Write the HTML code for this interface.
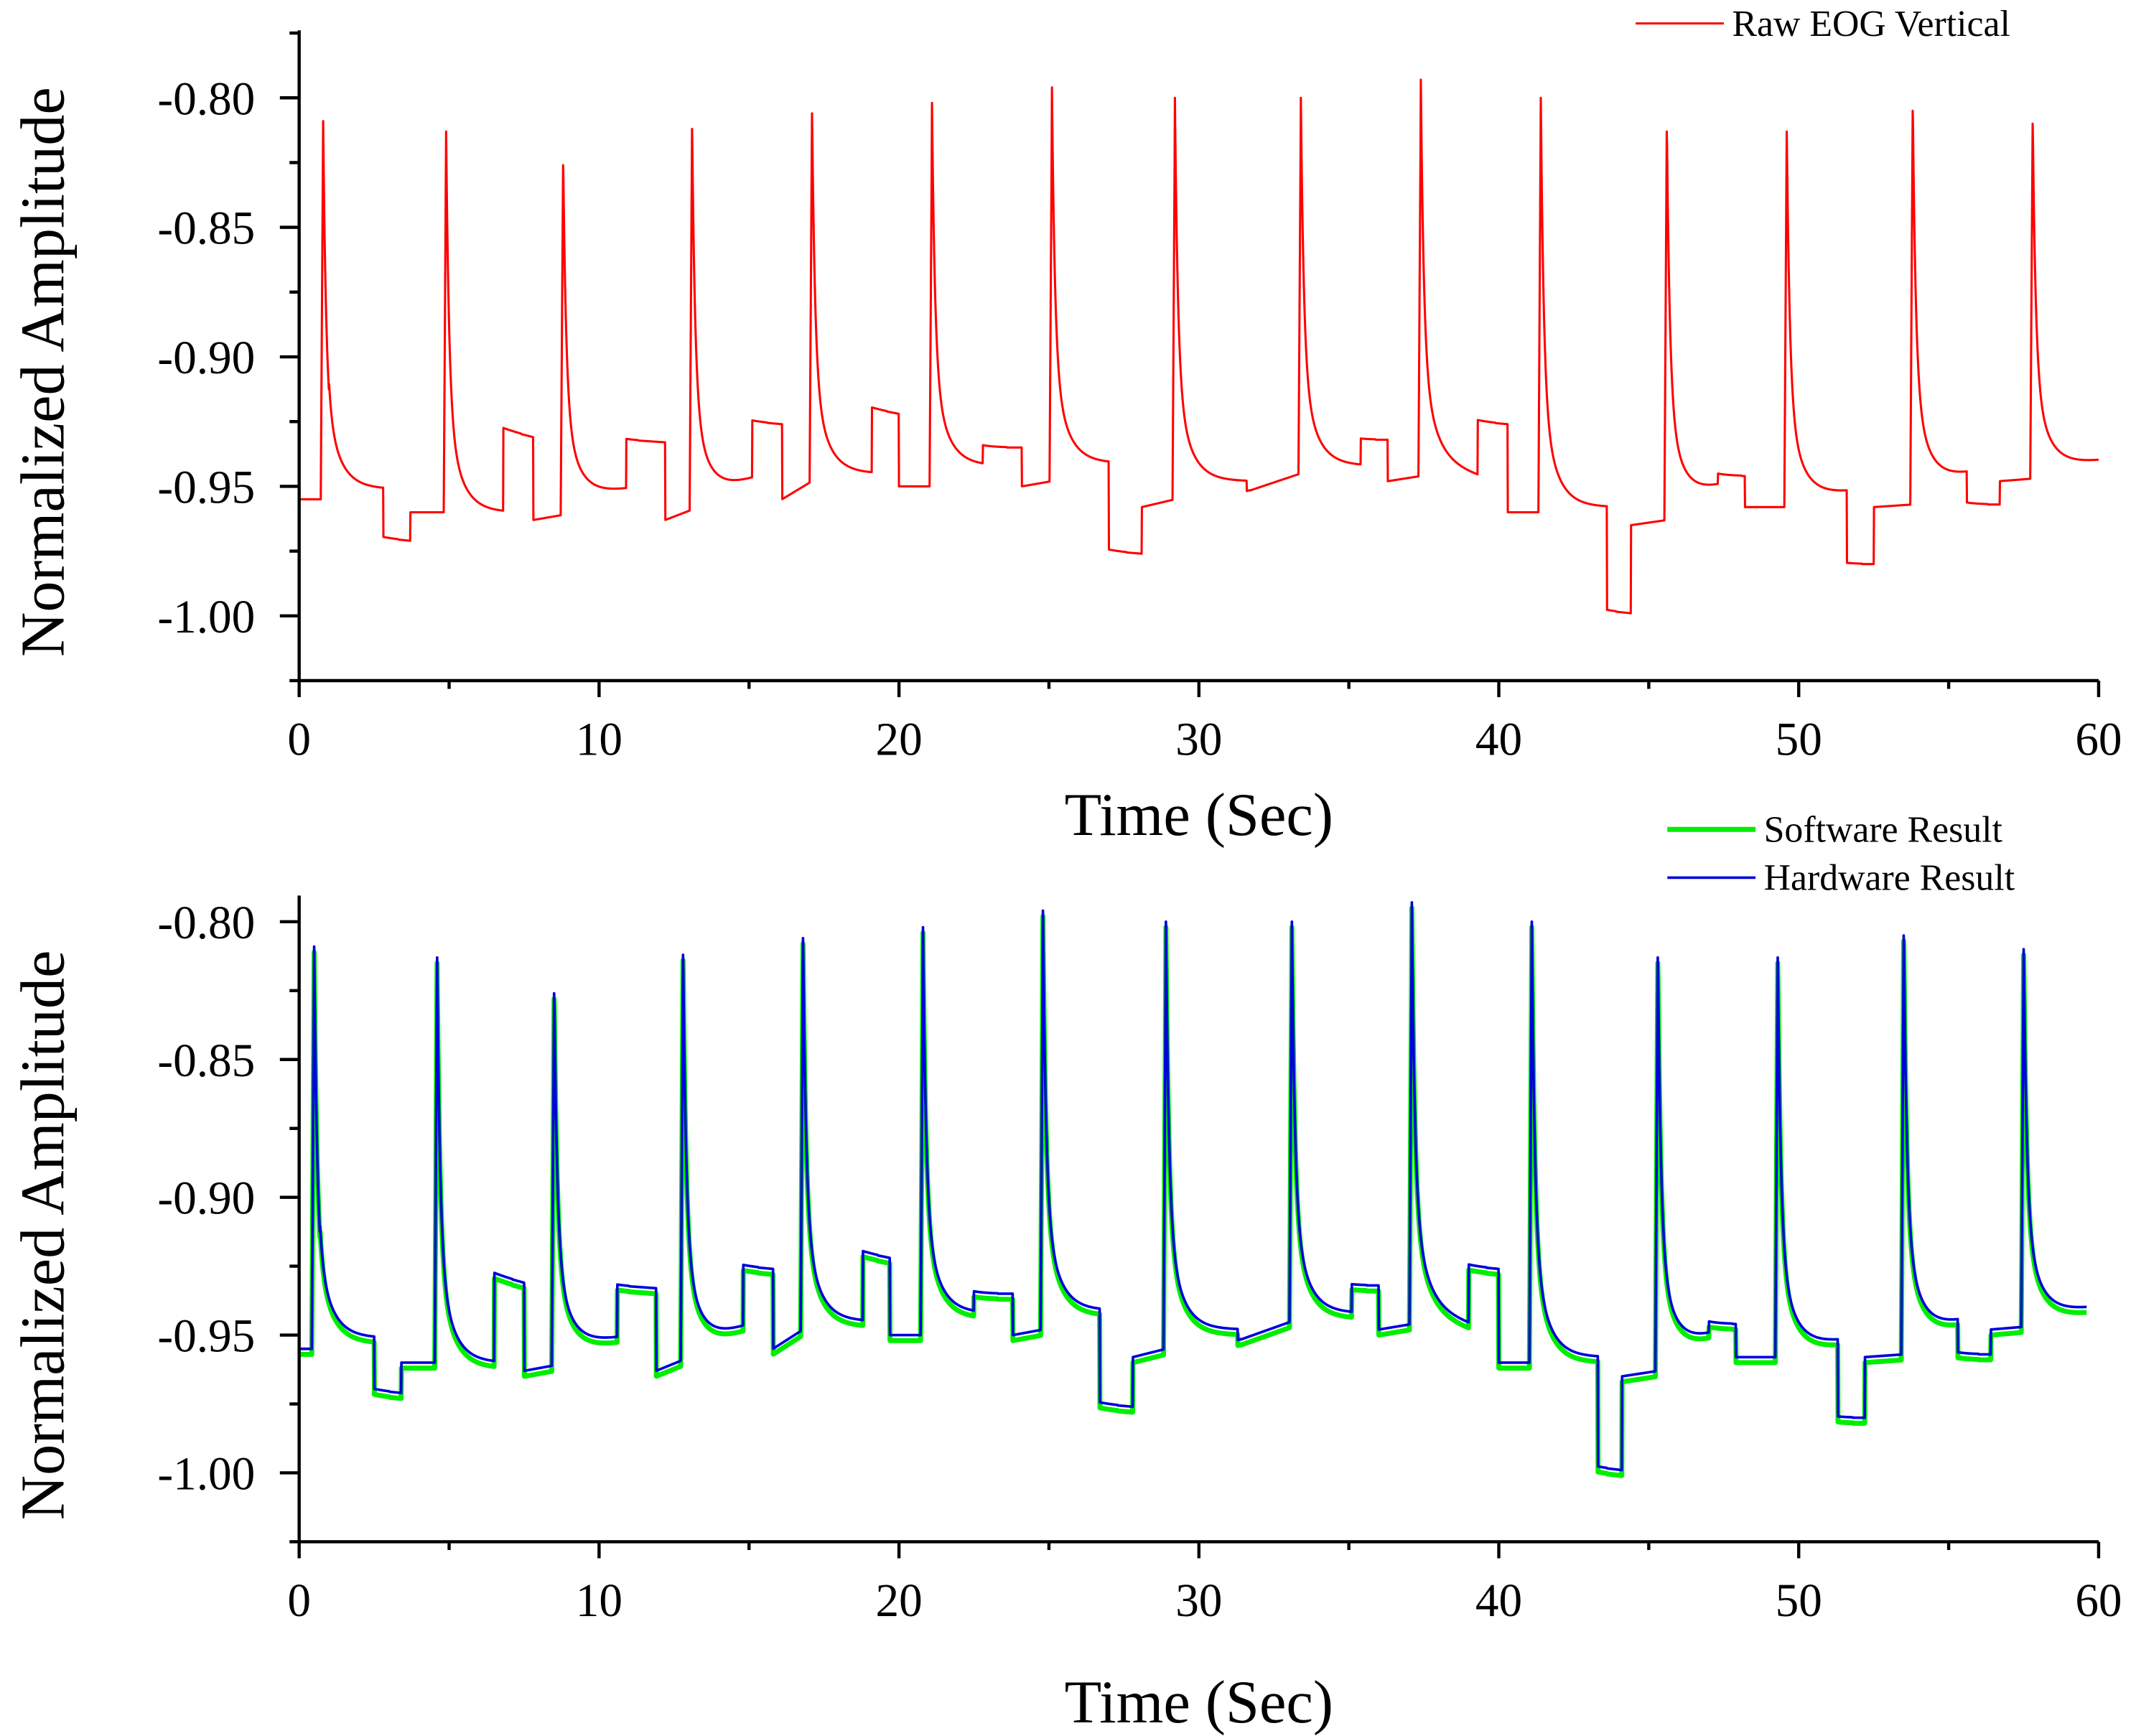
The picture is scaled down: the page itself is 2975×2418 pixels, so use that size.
<!DOCTYPE html>
<html><head><meta charset="utf-8"><style>
html,body{margin:0;padding:0;background:#fff}
svg{display:block}
text{font-family:"Liberation Serif",serif;fill:#000}
</style></head><body>
<svg id="chart" width="2975" height="2418" viewBox="0 0 1550 1260" xmlns="http://www.w3.org/2000/svg">
<g id="top"></g>
<g id="bot"></g>
</svg>
<script>
// ---- data ----
const segStart = [0,1.0,2.8,3.7,4.9,6.8,7.8,8.8,10.9,12.2,13.1,15.1,16.1,17.1,19.1,20.0,21.1,22.8,24.1,25.1,27.0,28.1,29.2,31.6,33.4,35.4,36.3,37.4,39.3,40.3,41.4,43.6,44.4,45.6,47.3,48.2,49.6,51.6,52.5,53.8,55.6,56.7,57.8];
const segLevelA = [-0.955,-0.951,-0.970,-0.960,-0.960,-0.928,-0.963,-0.955,-0.932,-0.963,-0.955,-0.925,-0.955,-0.945,-0.920,-0.950,-0.942,-0.935,-0.950,-0.941,-0.975,-0.958,-0.948,-0.952,-0.942,-0.932,-0.948,-0.940,-0.925,-0.960,-0.958,-0.998,-0.965,-0.957,-0.946,-0.958,-0.955,-0.980,-0.958,-0.950,-0.957,-0.948,-0.943];
const segLevelB = [-0.955,-0.951,-0.971,-0.960,-0.960,-0.931,-0.961,-0.951,-0.933,-0.959,-0.947,-0.926,-0.948,-0.945,-0.922,-0.950,-0.942,-0.935,-0.948,-0.941,-0.976,-0.955,-0.948,-0.945,-0.942,-0.932,-0.946,-0.946,-0.926,-0.960,-0.958,-0.999,-0.963,-0.950,-0.946,-0.958,-0.952,-0.980,-0.957,-0.945,-0.957,-0.947,-0.940];
const spikeTimes = [0.8,4.9,8.8,13.1,17.1,21.1,25.1,29.2,33.4,37.4,41.4,45.6,49.6,53.8,57.8];
const spikePeaks = [-0.809,-0.813,-0.820,-0.808,-0.803,-0.802,-0.796,-0.800,-0.800,-0.793,-0.800,-0.807,-0.810,-0.798,-0.806];
const xTicks = [0,10,20,30,40,50,60];
const yTicks = [-0.80,-0.85,-0.90,-0.95,-1.00];
const bottomShift = -0.3;   // seconds offset of filtered result
const softwareOffset = -0.002;

function baseAt(t){
  let i=0; while(i<segStart.length-1 && t>=segStart[i+1]) i++;
  const s=segStart[i], e=(i<segStart.length-1?segStart[i+1]:60);
  const f=(t-s)/(e-s);
  return segLevelA[i]+(segLevelB[i]-segLevelA[i])*Math.max(0,Math.min(1,f));
}
function signal(t){
  let v=baseAt(t);
  for(let k=0;k<spikeTimes.length;k++){
    const d=t-spikeTimes[k];
    if(d<-0.08||d>2.5) continue;
    const amp=spikePeaks[k]-baseAt(spikeTimes[k]);
    let sh;
    if(d<0) sh=1+d/0.08; else sh=0.72*Math.exp(-d/0.1)+0.28*Math.exp(-d/0.45);
    v+=amp*sh;
  }
  return v;
}
const NS='http://www.w3.org/2000/svg';
function mk(tag,attrs,parent){const e=document.createElementNS(NS,tag);for(const k in attrs)e.setAttribute(k,attrs[k]);parent.appendChild(e);return e;}

function panel(g,cfg){
  const X=t=>cfg.x0+(t-0)/(60-0)*(cfg.x1-cfg.x0);
  const Y=v=>cfg.yA+(v-(-0.80))/(-1.00-(-0.80))*(cfg.yB-cfg.yA);
  cfg.series.forEach(s=>{
    let d='';
    for(let t=0;t<=s.tEnd+1e-9;t+=0.01){
      const v=signal(t-s.shift)+s.off;
      d+=(d?'L':'M')+X(t).toFixed(2)+','+Y(v).toFixed(2);
    }
    const p=mk('path',{d:d,fill:'none',stroke:s.color,'stroke-width':s.w,'stroke-linejoin':'round'},g);
    
    
  });
  const ax=mk('path',{d:`M${cfg.x0},${cfg.yTop} V${cfg.yAxis} H${cfg.x1}`,fill:'none',stroke:'#000','stroke-width':2.3},g);
  
  
  xTicks.forEach(t=>{
    mk('line',{x1:X(t),x2:X(t),y1:cfg.yAxis,y2:cfg.yAxis+12,stroke:'#000','stroke-width':2.3},g);
    if(t<60) mk('line',{x1:X(t+5),x2:X(t+5),y1:cfg.yAxis,y2:cfg.yAxis+6,stroke:'#000','stroke-width':2.3},g);
    const tx=mk('text',{x:X(t),y:cfg.yAxis+54,'text-anchor':'middle','font-size':34},g);
    tx.textContent=t;
    
    
  });
  yTicks.forEach(v=>{
    mk('line',{x1:cfg.x0-14,x2:cfg.x0,y1:Y(v),y2:Y(v),stroke:'#000','stroke-width':2.3},g);
    const m=v-0.025;
    if(Y(m)<cfg.yAxis) mk('line',{x1:cfg.x0-7,x2:cfg.x0,y1:Y(m),y2:Y(m),stroke:'#000','stroke-width':2.3},g);
    const tx=mk('text',{x:cfg.x0-32,y:Y(v)+12,'text-anchor':'end','font-size':34},g);
    tx.textContent=v.toFixed(2);
    
    
  });
  if(Y(-0.775)>cfg.yTop) mk('line',{x1:cfg.x0-7,x2:cfg.x0,y1:Y(-0.775),y2:Y(-0.775),stroke:'#000','stroke-width':2.3},g);
  const xt=mk('text',{x:(cfg.x0+cfg.x1)/2,y:cfg.xTitleY,'text-anchor':'middle','font-size':44},g);
  xt.textContent='Time (Sec)';
  
  
  const yc=(cfg.yTop+cfg.yAxis)/2+12;
  const yt=mk('text',{x:46,y:yc,'text-anchor':'middle','font-size':45,transform:`rotate(-90 46 ${yc})`},g);
  yt.textContent='Normalized Amplitude';
  
  
  cfg.legend.forEach(l=>{
    const lg=mk('g',{},g);
    
    
    mk('line',{x1:l.x,x2:l.x+64,y1:l.y,y2:l.y,stroke:l.color,'stroke-width':l.w},lg);
    const tx=mk('text',{x:l.x+70,y:l.y+9,'font-size':27},lg);
    tx.textContent=l.label;
  });
}
panel(document.getElementById('top'),{x0:217,x1:1523,yA:71,yB:447,yTop:22,yAxis:494,xTitleY:606,
  series:[{name:'raw-eog-line',color:'#ff0000',w:1.6,shift:0,off:0,tEnd:60}],
  legend:[{x:1187,y:17,color:'#ff0000',w:1.6,label:'Raw EOG Vertical'}]});
panel(document.getElementById('bot'),{x0:217,x1:1523,yA:669,yB:1069,yTop:650,yAxis:1119,xTitleY:1250,
  series:[{name:'software-result-line',color:'#00ee00',w:3.6,shift:bottomShift,off:softwareOffset,tEnd:59.6},
          {name:'hardware-result-line',color:'#0000dd',w:1.9,shift:bottomShift,off:0,tEnd:59.6}],
  legend:[{x:1210,y:602,color:'#00ee00',w:3.6,label:'Software Result'},{x:1210,y:637,color:'#0000dd',w:1.9,label:'Hardware Result'}]});
</script>
</body></html>
